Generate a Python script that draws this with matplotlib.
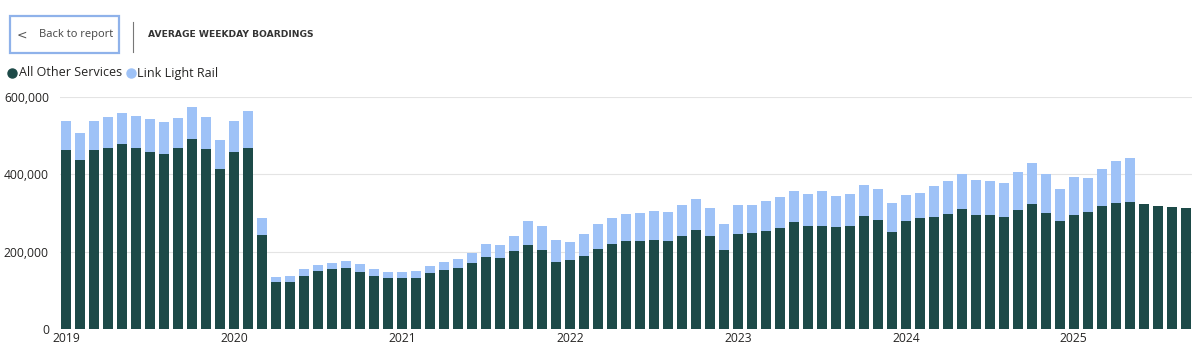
# average weekday boardings, stacked monthly bars
import matplotlib
matplotlib.use("Agg")
import matplotlib.pyplot as plt
from matplotlib.patches import FancyBboxPatch
from matplotlib.ticker import FuncFormatter

plt.rcParams['font.family'] = ['Open Sans', 'DejaVu Sans']

# monthly values Jan 2019 .. Sep 2025
months = [f"{y}-{m:02d}" for y in range(2019, 2026) for m in range(1, 13)][:81]
other = [462000, 436000, 462000, 467000, 478000, 467000, 458000, 451000, 467000, 490000, 465000, 414000,
         457000, 467000, 244000, 122000, 122000, 138000, 149000, 154000, 157000, 147000, 136000, 132000,
         133000, 133000, 145000, 153000, 158000, 170000, 186000, 184000, 202000, 218000, 205000, 174000,
         178000, 189000, 207000, 219000, 227000, 227000, 229000, 227000, 241000, 255000, 239000, 204000,
         245000, 247000, 252000, 261000, 277000, 266000, 265000, 263000, 266000, 293000, 282000, 251000,
         278000, 287000, 290000, 296000, 309000, 294000, 294000, 288000, 307000, 323000, 299000, 279000,
         294000, 302000, 317000, 326000, 329000, 323000, 318000, 314000, 313000]
total = [538000, 506000, 538000, 548000, 558000, 551000, 542000, 535000, 545000, 574000, 547000, 488000,
         536000, 564000, 286000, 134000, 137000, 154000, 166000, 171000, 176000, 168000, 155000, 147000,
         147000, 150000, 164000, 173000, 181000, 197000, 220000, 218000, 240000, 279000, 266000, 231000,
         226000, 245000, 270000, 286000, 298000, 300000, 305000, 302000, 320000, 335000, 313000, 270000,
         319000, 321000, 331000, 341000, 357000, 348000, 356000, 343000, 348000, 373000, 361000, 325000,
         345000, 350000, 369000, 381000, 400000, 385000, 382000, 377000, 406000, 429000, 400000, 362000,
         393000, 389000, 413000, 434000, 442000, 323000, 318000, 314000, 313000]
light_rail = [t - o for t, o in zip(total, other)]
years = ["2019", "2020", "2021", "2022", "2023", "2024", "2025"]

dark = "#1d4a48"
light = "#9ec2f7"

fig = plt.figure(figsize=(12, 3.56), dpi=100)
ax = fig.add_axes([0.05, 0.0758, 0.9433, 0.6526])

x = list(range(len(months)))
ax.bar(x, other, width=0.71, color=dark, zorder=3)
ax.bar(x, light_rail, bottom=other, width=0.71, color=light, zorder=3)

ax.set_xlim(-0.45, 80.45)
ax.set_ylim(0, 600000)
ax.set_yticks([0, 200000, 400000, 600000])
ax.yaxis.set_major_formatter(FuncFormatter(lambda v, p: f"{int(v):,}"))
ax.set_xticks([12 * i for i in range(len(years))])
ax.set_xticklabels(years)
ax.tick_params(length=0, labelsize=8.7, colors="#252423", pad=2)
ax.tick_params(axis="y", pad=8)
ax.grid(axis="y", color="#e4e4e4", linewidth=0.8, zorder=0)
for s in ax.spines.values():
    s.set_visible(False)

# header
box = FancyBboxPatch((10 / 1200, 1 - 53 / 356), 109 / 1200, 37 / 356, boxstyle="square,pad=0",
                     transform=fig.transFigure, facecolor="white", edgecolor="#8fb2ea", linewidth=1.6)
fig.add_artist(box)
fig.text(17 / 1200, 1 - 35 / 356, "<", fontsize=9, color="#555555", va="center", family="DejaVu Sans")
fig.text(39 / 1200, 1 - 35 / 356, "Back to report", fontsize=8, color="#444444", va="center")
fig.add_artist(plt.Line2D([133 / 1200, 133 / 1200], [1 - 52 / 356, 1 - 22 / 356],
                          transform=fig.transFigure, color="#777777", linewidth=0.8))
fig.text(148 / 1200, 1 - 34.5 / 356, "AVERAGE WEEKDAY BOARDINGS", fontsize=6.6, color="#333333",
         va="center", fontweight="bold", family="DejaVu Sans")

# legend
fig.add_artist(plt.Line2D([11.7 / 1200], [1 - 73 / 356], transform=fig.transFigure, marker="o",
                          markersize=6.5, color=dark, linestyle="none"))
fig.text(19 / 1200, 1 - 73 / 356, "All Other Services", fontsize=9, color="#252423", va="center")
fig.add_artist(plt.Line2D([131 / 1200], [1 - 73 / 356], transform=fig.transFigure, marker="o",
                          markersize=6.5, color=light, linestyle="none"))
fig.text(137 / 1200, 1 - 73 / 356, "Link Light Rail", fontsize=9, color="#252423", va="center")

fig.savefig("out.png", dpi=100)
